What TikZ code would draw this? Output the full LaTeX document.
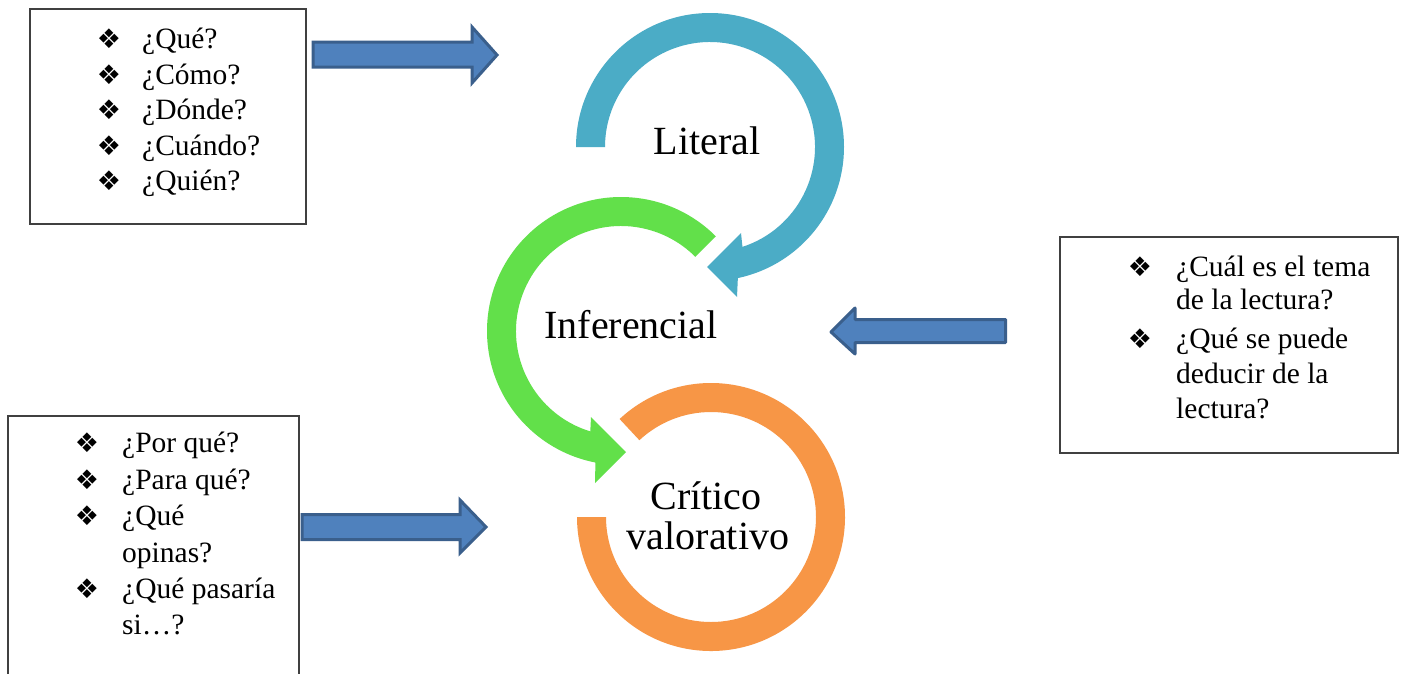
\documentclass[tikz,border=0pt]{standalone}
\usepackage{fontspec}
\setmainfont{Liberation Serif}
\newfontfamily\dejavu{DejaVu Sans}
\usetikzlibrary{calc}
\definecolor{cblue}{HTML}{4BACC6}
\definecolor{cgreen}{HTML}{62E04A}
\definecolor{corange}{HTML}{F79646}
\definecolor{afill}{HTML}{4F81BD}
\definecolor{aline}{HTML}{3A5F8C}
\definecolor{boxline}{HTML}{404040}
\begin{document}
\begin{tikzpicture}[x=1pt,y=-1pt,
  bigtxt/.style={font=\fontsize{40}{40}\selectfont, inner sep=0pt, anchor=base},
  itemtxt/.style={font=\fontsize{29.5}{36}\selectfont, anchor=base west, inner sep=0pt},
  bul/.style={font=\dejavu\fontsize{27}{27}\selectfont, inner sep=0pt, anchor=center},
  blockarrow/.style={fill=afill, draw=aline, line width=3pt, line join=miter},
  qbox/.style={draw=boxline, line width=1.5pt, inner sep=0pt, anchor=north west}]
\useasboundingbox (0,0) rectangle (1401,673);
\fill[white] (0,0) rectangle (1401,673);

% circular arrows
\fill[cblue] ($(710,147)+(180:134)$) arc[start angle=180,end angle=438,radius=134]
  -- (737,297) -- (707,267) -- (741,233)
  -- ($(710,147)+(432:105)$) arc[start angle=432,end angle=180,radius=105] -- cycle;
\fill[cgreen] ($(621,331)+(315:134)$) arc[start angle=315,end angle=101,radius=134]
  -- (595,483) -- (626,452) -- (591,417)
  -- ($(621,331)+(107:105)$) arc[start angle=107,end angle=315,radius=105] -- cycle;
\fill[corange] ($(711,517)+(227:134)$) arc[start angle=227,end angle=540,radius=134]
  -- ($(711,517)+(540:105)$) arc[start angle=540,end angle=227,radius=105] -- cycle;

\node[bigtxt] (lit) at (707,154) {Literal};
\node[bigtxt] (inf) at (631,338) {Inferencial};
\node[bigtxt] (crit1) at (706,509) {Crítico};
\node[bigtxt] (crit2) at (708,549) {valorativo};

% block arrows
\draw[blockarrow] (313,42) -- (472,42) -- (472,27) -- (497,55) -- (472,83) -- (472,67) -- (313,67) -- cycle;
\draw[blockarrow, line join=round] (831,332) -- (855,308) -- (855,319.5) -- (1005.5,319.5) -- (1005.5,342.5) -- (855,342.5) -- (855,354) -- cycle;
\draw[blockarrow] (302,514.5) -- (460,514.5) -- (460,500) -- (486,527) -- (460,553) -- (460,539.5) -- (302,539.5) -- cycle;

% box 1
\node[qbox, minimum width=276pt, minimum height=215pt] (b1) at (29,8) {};
\node[bul] (b1a) at (109,38.5) {❖};
\node[itemtxt] (t1a) at (142,48) {¿Qué?};
\node[bul] (b1b) at (109,74.5) {❖};
\node[itemtxt] (t1b) at (142,84) {¿Cómo?};
\node[bul] (b1c) at (109,109.5) {❖};
\node[itemtxt] (t1c) at (142,119) {¿Dónde?};
\node[bul] (b1d) at (109,145.5) {❖};
\node[itemtxt] (t1d) at (142,155) {¿Cuándo?};
\node[bul] (b1e) at (109,180.5) {❖};
\node[itemtxt] (t1e) at (142,190) {¿Quién?};

% box 2
\node[qbox, minimum width=338pt, minimum height=216pt] (b2) at (1059,236) {};
\node[bul] (b2a) at (1140,266.5) {❖};
\node[itemtxt] (t2a) at (1176,276) {¿Cuál es el tema};
\node[itemtxt] (t2b) at (1176,309) {de la lectura?};
\node[bul] (b2c) at (1140,338.5) {❖};
\node[itemtxt] (t2c) at (1176,348) {¿Qué se puede};
\node[itemtxt] (t2d) at (1176,383) {deducir de la};
\node[itemtxt] (t2e) at (1176,418) {lectura?};

% box 3 (open at the bottom edge of the picture)
\coordinate (b3bl) at (8,674);
\coordinate (b3br) at (299,674);
\draw[draw=boxline, line width=1.5pt] (b3bl) -- (8,416) -- (299,416) -- (b3br);
\node[bul] (b3a) at (87,442.5) {❖};
\node[itemtxt] (t3a) at (122,452) {¿Por qué?};
\node[bul] (b3b) at (87,479.5) {❖};
\node[itemtxt] (t3b) at (122,489) {¿Para qué?};
\node[bul] (b3c) at (87,515.5) {❖};
\node[itemtxt] (t3c) at (122,525) {¿Qué};
\node[itemtxt] (t3d) at (122,562) {opinas?};
\node[bul] (b3e) at (87,588.5) {❖};
\node[itemtxt] (t3e) at (122,598) {¿Qué pasaría};
\node[itemtxt] (t3f) at (122,634) {si…?};
\end{tikzpicture}
\end{document}
